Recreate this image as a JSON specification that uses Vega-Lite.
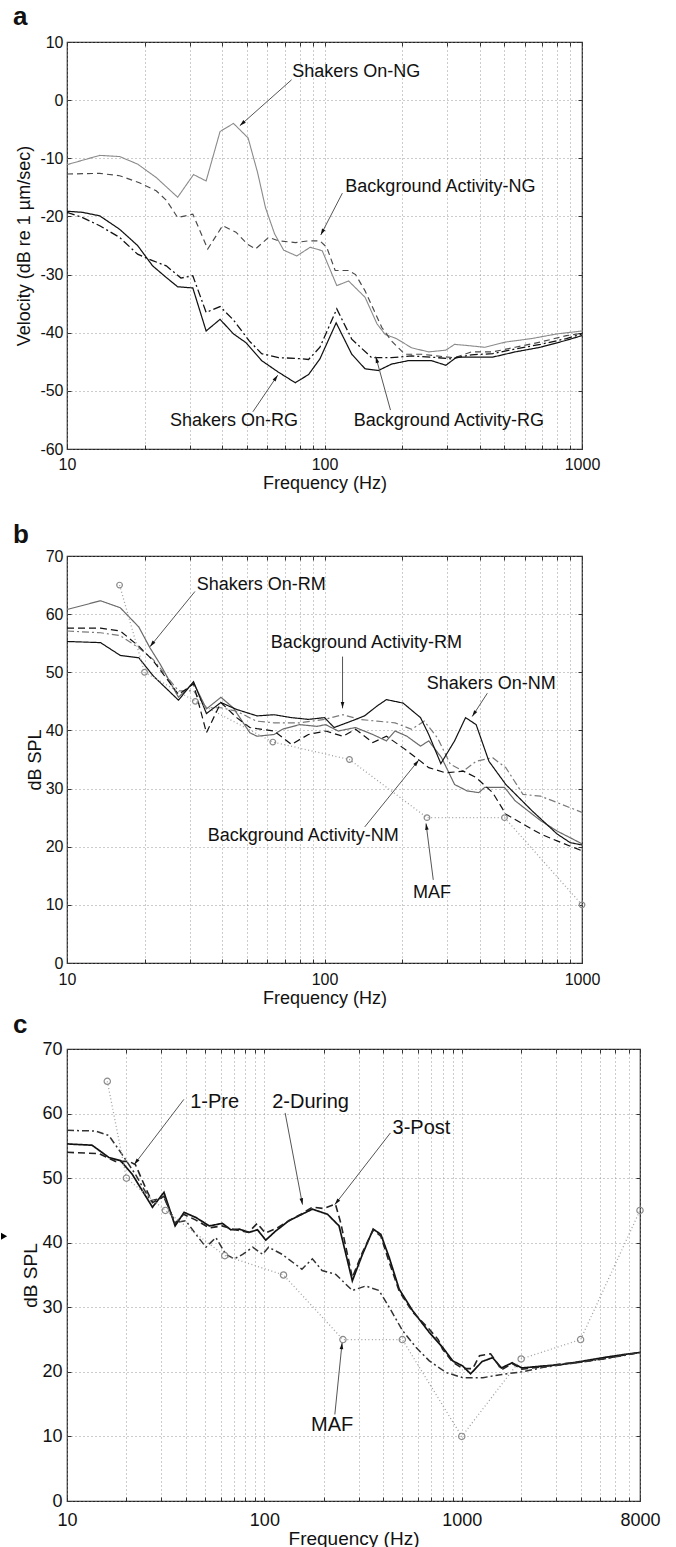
{
"$schema":"https://vega.github.io/schema/vega-lite/v6.json",
"padding":{"left":0,"top":3,"right":0,"bottom":0},
"background":"white",
"spacing":3,
"resolve":{"scale":{"color":"independent","strokeDash":"independent","strokeWidth":"independent","x":"independent","y":"independent"}},
"config":{
 "font":"Liberation Sans",
 "view":{"stroke":"#222","strokeWidth":1.2},
 "axis":{"labelFont":"Liberation Sans","titleFont":"Liberation Sans","labelColor":"#111","titleColor":"#111","titleFontWeight":"normal","labelFontSize":16,"titleFontSize":18,"grid":true,"gridColor":"#8c8c8c","gridDash":[1,3],"gridWidth":0.9,"tickSize":-4,"tickColor":"#333","domain":false,"labelFlush":false,"labelOverlap":false},
 "title":{"font":"Liberation Sans","fontWeight":"bold","fontSize":26,"anchor":"start","frame":"group","color":"#111","baseline":"alphabetic"},
 "text":{"font":"Liberation Sans"}
},
"datasets":{
"A":[
{"s":"NG","f":10,"v":-11.1},{"s":"NG","f":13.4,"v":-9.5},{"s":"NG","f":16,"v":-9.7},{"s":"NG","f":18.8,"v":-11},{"s":"NG","f":22.2,"v":-13.3},{"s":"NG","f":26.9,"v":-16.7},{"s":"NG","f":31,"v":-12.8},{"s":"NG","f":34.7,"v":-13.9},{"s":"NG","f":39.3,"v":-5.4},{"s":"NG","f":44.3,"v":-4},{"s":"NG","f":50.5,"v":-6.5},{"s":"NG","f":55,"v":-12.5},{"s":"NG","f":59,"v":-18.5},{"s":"NG","f":64,"v":-23},{"s":"NG","f":69.4,"v":-25.8},{"s":"NG","f":78,"v":-26.8},{"s":"NG","f":88,"v":-25.3},{"s":"NG","f":98,"v":-25.9},{"s":"NG","f":111.6,"v":-31.9},{"s":"NG","f":124,"v":-31.1},{"s":"NG","f":143.7,"v":-33.9},{"s":"NG","f":160,"v":-38.5},{"s":"NG","f":172,"v":-40.3},{"s":"NG","f":190,"v":-41},{"s":"NG","f":218,"v":-42.6},{"s":"NG","f":254,"v":-43.3},{"s":"NG","f":296,"v":-43},{"s":"NG","f":320,"v":-42},{"s":"NG","f":358,"v":-42.2},{"s":"NG","f":419,"v":-42.5},{"s":"NG","f":506,"v":-41.6},{"s":"NG","f":639,"v":-41},{"s":"NG","f":800,"v":-40.2},{"s":"NG","f":1000,"v":-39.7},
{"s":"NGb","f":10,"v":-12.7},{"s":"NGb","f":13.4,"v":-12.6},{"s":"NGb","f":16,"v":-13},{"s":"NGb","f":19.1,"v":-14.2},{"s":"NGb","f":22.2,"v":-15.6},{"s":"NGb","f":24.3,"v":-17.2},{"s":"NGb","f":26.9,"v":-20.2},{"s":"NGb","f":30.8,"v":-19.6},{"s":"NGb","f":35.2,"v":-25.6},{"s":"NGb","f":40.2,"v":-21.6},{"s":"NGb","f":45.3,"v":-22.7},{"s":"NGb","f":50.3,"v":-24.8},{"s":"NGb","f":54,"v":-25.6},{"s":"NGb","f":60.6,"v":-23.6},{"s":"NGb","f":66.3,"v":-24.2},{"s":"NGb","f":77,"v":-24.5},{"s":"NGb","f":86.7,"v":-24.2},{"s":"NGb","f":96,"v":-24.2},{"s":"NGb","f":102,"v":-25.3},{"s":"NGb","f":110,"v":-29.3},{"s":"NGb","f":124,"v":-29.3},{"s":"NGb","f":132,"v":-30},{"s":"NGb","f":143.7,"v":-32.8},{"s":"NGb","f":167,"v":-39.1},{"s":"NGb","f":182,"v":-41.4},{"s":"NGb","f":205,"v":-43.7},{"s":"NGb","f":238,"v":-43.7},{"s":"NGb","f":302,"v":-44.2},{"s":"NGb","f":320,"v":-44.3},{"s":"NGb","f":372,"v":-43.3},{"s":"NGb","f":450,"v":-43.3},{"s":"NGb","f":550,"v":-42.5},{"s":"NGb","f":690,"v":-41.6},{"s":"NGb","f":870,"v":-40.5},{"s":"NGb","f":1000,"v":-40.1},
{"s":"RG","f":10,"v":-19.1},{"s":"RG","f":11.5,"v":-19.3},{"s":"RG","f":13.4,"v":-19.9},{"s":"RG","f":16,"v":-22.2},{"s":"RG","f":18.8,"v":-25},{"s":"RG","f":21.5,"v":-28.5},{"s":"RG","f":24.3,"v":-30.5},{"s":"RG","f":26.9,"v":-32.1},{"s":"RG","f":30.8,"v":-32.3},{"s":"RG","f":34.7,"v":-39.7},{"s":"RG","f":39.3,"v":-37.7},{"s":"RG","f":44.3,"v":-40.2},{"s":"RG","f":49.5,"v":-41.7},{"s":"RG","f":57,"v":-44.8},{"s":"RG","f":66.3,"v":-46.8},{"s":"RG","f":77,"v":-48.6},{"s":"RG","f":86.7,"v":-47.2},{"s":"RG","f":96,"v":-44.5},{"s":"RG","f":111,"v":-38.3},{"s":"RG","f":127.6,"v":-43.7},{"s":"RG","f":143.7,"v":-46.2},{"s":"RG","f":162,"v":-46.5},{"s":"RG","f":182,"v":-45.4},{"s":"RG","f":212,"v":-44.8},{"s":"RG","f":260,"v":-44.8},{"s":"RG","f":296,"v":-45.6},{"s":"RG","f":326,"v":-44.2},{"s":"RG","f":372,"v":-44.2},{"s":"RG","f":450,"v":-44.2},{"s":"RG","f":550,"v":-43.3},{"s":"RG","f":690,"v":-42.5},{"s":"RG","f":870,"v":-41.3},{"s":"RG","f":1000,"v":-40.5},
{"s":"RGb","f":10,"v":-19.3},{"s":"RGb","f":11.5,"v":-20.2},{"s":"RGb","f":13.4,"v":-21.6},{"s":"RGb","f":16,"v":-23.6},{"s":"RGb","f":18.8,"v":-26.5},{"s":"RGb","f":21.5,"v":-27.6},{"s":"RGb","f":24.3,"v":-28.5},{"s":"RGb","f":27.7,"v":-30.6},{"s":"RGb","f":30.8,"v":-30.2},{"s":"RGb","f":34.7,"v":-36.5},{"s":"RGb","f":39.3,"v":-35.5},{"s":"RGb","f":44.3,"v":-37.8},{"s":"RGb","f":51,"v":-41.4},{"s":"RGb","f":57,"v":-43.6},{"s":"RGb","f":66.3,"v":-44.3},{"s":"RGb","f":77,"v":-44.4},{"s":"RGb","f":86.7,"v":-44.6},{"s":"RGb","f":96,"v":-42.5},{"s":"RGb","f":111.6,"v":-35.9},{"s":"RGb","f":127.6,"v":-41.1},{"s":"RGb","f":152.5,"v":-44.3},{"s":"RGb","f":182,"v":-44.3},{"s":"RGb","f":218,"v":-44},{"s":"RGb","f":260,"v":-44.2},{"s":"RGb","f":311,"v":-44.5},{"s":"RGb","f":372,"v":-43.8},{"s":"RGb","f":450,"v":-43.6},{"s":"RGb","f":550,"v":-42.8},{"s":"RGb","f":690,"v":-42},{"s":"RGb","f":870,"v":-41},{"s":"RGb","f":1000,"v":-40.2}
],
"B":[
{"s":"RM","f":10,"v":60.8},{"s":"RM","f":13.5,"v":62.3},{"s":"RM","f":16.1,"v":61.1},{"s":"RM","f":19,"v":57.8},{"s":"RM","f":21,"v":54.2},{"s":"RM","f":23,"v":51.4},{"s":"RM","f":27.1,"v":45.7},{"s":"RM","f":31,"v":48.2},{"s":"RM","f":34.8,"v":43.7},{"s":"RM","f":39.6,"v":45.7},{"s":"RM","f":44.2,"v":43.9},{"s":"RM","f":51.3,"v":39.6},{"s":"RM","f":54.7,"v":39},{"s":"RM","f":63.7,"v":39.3},{"s":"RM","f":68.6,"v":40.2},{"s":"RM","f":80,"v":41},{"s":"RM","f":93.6,"v":40.7},{"s":"RM","f":101,"v":41},{"s":"RM","f":113,"v":39.9},{"s":"RM","f":132,"v":40.5},{"s":"RM","f":154,"v":39.3},{"s":"RM","f":174,"v":38.2},{"s":"RM","f":188,"v":39.9},{"s":"RM","f":209,"v":39},{"s":"RM","f":236,"v":37.3},{"s":"RM","f":254,"v":38.2},{"s":"RM","f":285,"v":35.3},{"s":"RM","f":320,"v":30.7},{"s":"RM","f":358,"v":29.6},{"s":"RM","f":397,"v":29.3},{"s":"RM","f":419,"v":30.2},{"s":"RM","f":500,"v":30.2},{"s":"RM","f":550,"v":27.9},{"s":"RM","f":690,"v":24.5},{"s":"RM","f":800,"v":22.7},{"s":"RM","f":1000,"v":20.5},
{"s":"RMb","f":10,"v":57.1},{"s":"RMb","f":13.5,"v":56.8},{"s":"RMb","f":16.1,"v":56.3},{"s":"RMb","f":19,"v":54.2},{"s":"RMb","f":21.6,"v":52.2},{"s":"RMb","f":27.1,"v":46.8},{"s":"RMb","f":31,"v":46.8},{"s":"RMb","f":34.8,"v":43.9},{"s":"RMb","f":39.6,"v":43.9},{"s":"RMb","f":45.6,"v":43.3},{"s":"RMb","f":54.4,"v":41.6},{"s":"RMb","f":63.7,"v":41.3},{"s":"RMb","f":80,"v":41.3},{"s":"RMb","f":100,"v":41.9},{"s":"RMb","f":118,"v":42.7},{"s":"RMb","f":137,"v":41.9},{"s":"RMb","f":160,"v":41.6},{"s":"RMb","f":188,"v":41.3},{"s":"RMb","f":218,"v":40.2},{"s":"RMb","f":244,"v":41.6},{"s":"RMb","f":275,"v":38.7},{"s":"RMb","f":308,"v":34.2},{"s":"RMb","f":346,"v":33},{"s":"RMb","f":388,"v":34.7},{"s":"RMb","f":450,"v":35.3},{"s":"RMb","f":506,"v":33.6},{"s":"RMb","f":590,"v":29},{"s":"RMb","f":690,"v":28.7},{"s":"RMb","f":800,"v":27.6},{"s":"RMb","f":1000,"v":25.9},
{"s":"NM","f":10,"v":55.3},{"s":"NM","f":13.5,"v":55.1},{"s":"NM","f":16.1,"v":52.9},{"s":"NM","f":19,"v":52.5},{"s":"NM","f":21.6,"v":49.4},{"s":"NM","f":27.1,"v":45.2},{"s":"NM","f":31,"v":48.4},{"s":"NM","f":34.8,"v":42.9},{"s":"NM","f":39.6,"v":44.8},{"s":"NM","f":45.6,"v":43.6},{"s":"NM","f":54.7,"v":42.5},{"s":"NM","f":63.7,"v":42.7},{"s":"NM","f":74.4,"v":42.2},{"s":"NM","f":86.6,"v":41.9},{"s":"NM","f":100,"v":42.2},{"s":"NM","f":109,"v":40.5},{"s":"NM","f":127,"v":41.6},{"s":"NM","f":143,"v":42.5},{"s":"NM","f":160,"v":44.2},{"s":"NM","f":174,"v":45.3},{"s":"NM","f":202,"v":44.7},{"s":"NM","f":236,"v":42.2},{"s":"NM","f":254,"v":39.3},{"s":"NM","f":283,"v":34.3},{"s":"NM","f":320,"v":38.2},{"s":"NM","f":353,"v":42.2},{"s":"NM","f":388,"v":41},{"s":"NM","f":435,"v":34.7},{"s":"NM","f":506,"v":30.7},{"s":"NM","f":639,"v":26.2},{"s":"NM","f":800,"v":22.2},{"s":"NM","f":900,"v":20.7},{"s":"NM","f":1000,"v":20.3},
{"s":"NMb","f":10,"v":57.6},{"s":"NMb","f":13.5,"v":57.6},{"s":"NMb","f":16.1,"v":57.1},{"s":"NMb","f":19,"v":54.5},{"s":"NMb","f":21.6,"v":52},{"s":"NMb","f":27.1,"v":46.2},{"s":"NMb","f":31,"v":48},{"s":"NMb","f":34.8,"v":39.6},{"s":"NMb","f":39.6,"v":44.8},{"s":"NMb","f":45.6,"v":42.2},{"s":"NMb","f":51.3,"v":40.5},{"s":"NMb","f":54.7,"v":40.3},{"s":"NMb","f":63.7,"v":39.9},{"s":"NMb","f":74.4,"v":37.6},{"s":"NMb","f":86.6,"v":39.3},{"s":"NMb","f":101,"v":39.9},{"s":"NMb","f":118,"v":39},{"s":"NMb","f":132,"v":40.2},{"s":"NMb","f":154,"v":37.9},{"s":"NMb","f":174,"v":39},{"s":"NMb","f":202,"v":37},{"s":"NMb","f":227,"v":35.3},{"s":"NMb","f":254,"v":33.6},{"s":"NMb","f":296,"v":32.7},{"s":"NMb","f":346,"v":33},{"s":"NMb","f":388,"v":31.9},{"s":"NMb","f":450,"v":29.3},{"s":"NMb","f":506,"v":25.6},{"s":"NMb","f":590,"v":23.9},{"s":"NMb","f":690,"v":22.2},{"s":"NMb","f":800,"v":21},{"s":"NMb","f":1000,"v":19.3}
],
"C":[
{"s":"P1","f":10,"v":55.3},{"s":"P1","f":13.4,"v":55.1},{"s":"P1","f":16.3,"v":53.2},{"s":"P1","f":18.7,"v":52.7},{"s":"P1","f":21.4,"v":50.6},{"s":"P1","f":27.1,"v":45.5},{"s":"P1","f":31,"v":47.8},{"s":"P1","f":35.3,"v":42.6},{"s":"P1","f":39.2,"v":44.7},{"s":"P1","f":45,"v":43.9},{"s":"P1","f":52.6,"v":42.6},{"s":"P1","f":61.3,"v":43},{"s":"P1","f":67.6,"v":42},{"s":"P1","f":74.6,"v":42.1},{"s":"P1","f":83.6,"v":41.6},{"s":"P1","f":92.3,"v":42},{"s":"P1","f":101.6,"v":40.4},{"s":"P1","f":114,"v":41.8},{"s":"P1","f":133,"v":43.4},{"s":"P1","f":155,"v":44.4},{"s":"P1","f":175,"v":45.2},{"s":"P1","f":209,"v":44.4},{"s":"P1","f":239,"v":42.6},{"s":"P1","f":279,"v":34.1},{"s":"P1","f":314,"v":38.2},{"s":"P1","f":356,"v":42.1},{"s":"P1","f":389,"v":41.3},{"s":"P1","f":429,"v":37.7},{"s":"P1","f":482,"v":32.8},{"s":"P1","f":563,"v":29.5},{"s":"P1","f":685,"v":26.1},{"s":"P1","f":800,"v":23.8},{"s":"P1","f":900,"v":21.7},{"s":"P1","f":1012,"v":20.9},{"s":"P1","f":1109,"v":19.7},{"s":"P1","f":1268,"v":21.6},{"s":"P1","f":1434,"v":22.2},{"s":"P1","f":1588,"v":20.6},{"s":"P1","f":1800,"v":21.4},{"s":"P1","f":2020,"v":20.6},{"s":"P1","f":2560,"v":20.9},{"s":"P1","f":3140,"v":21.1},{"s":"P1","f":4000,"v":21.6},{"s":"P1","f":5200,"v":22.2},{"s":"P1","f":6680,"v":22.7},{"s":"P1","f":8000,"v":23},
{"s":"P2","f":10,"v":54},{"s":"P2","f":14.5,"v":53.8},{"s":"P2","f":17.6,"v":52.6},{"s":"P2","f":20.6,"v":52.6},{"s":"P2","f":22.2,"v":52.1},{"s":"P2","f":25,"v":48.5},{"s":"P2","f":27.1,"v":46.2},{"s":"P2","f":31,"v":47.2},{"s":"P2","f":35.3,"v":43},{"s":"P2","f":39,"v":44.4},{"s":"P2","f":45,"v":43.5},{"s":"P2","f":52.6,"v":42.3},{"s":"P2","f":61,"v":42.6},{"s":"P2","f":71,"v":42},{"s":"P2","f":83,"v":41.6},{"s":"P2","f":92,"v":43},{"s":"P2","f":101,"v":41.5},{"s":"P2","f":115,"v":42.2},{"s":"P2","f":133,"v":43.4},{"s":"P2","f":155,"v":44.5},{"s":"P2","f":175,"v":45.5},{"s":"P2","f":200,"v":45.3},{"s":"P2","f":229,"v":46},{"s":"P2","f":244,"v":43},{"s":"P2","f":279,"v":34.6},{"s":"P2","f":314,"v":38.5},{"s":"P2","f":356,"v":42},{"s":"P2","f":389,"v":41},{"s":"P2","f":429,"v":37},{"s":"P2","f":482,"v":32.5},{"s":"P2","f":563,"v":29.3},{"s":"P2","f":685,"v":26.6},{"s":"P2","f":760,"v":25},{"s":"P2","f":800,"v":23.5},{"s":"P2","f":900,"v":21.5},{"s":"P2","f":1012,"v":20.5},{"s":"P2","f":1137,"v":20.5},{"s":"P2","f":1230,"v":22.5},{"s":"P2","f":1400,"v":22.8},{"s":"P2","f":1500,"v":21.5},{"s":"P2","f":1588,"v":20.3},{"s":"P2","f":1800,"v":21.3},{"s":"P2","f":2020,"v":20.4},{"s":"P2","f":2560,"v":20.8},{"s":"P2","f":3140,"v":21.2},{"s":"P2","f":4000,"v":21.5},{"s":"P2","f":5200,"v":22},{"s":"P2","f":6680,"v":22.6},{"s":"P2","f":8000,"v":23},
{"s":"P3","f":10,"v":57.4},{"s":"P3","f":13.9,"v":57.3},{"s":"P3","f":16.3,"v":56.6},{"s":"P3","f":18.7,"v":54},{"s":"P3","f":22.2,"v":50.6},{"s":"P3","f":26.5,"v":46.5},{"s":"P3","f":31,"v":47},{"s":"P3","f":35.3,"v":43.1},{"s":"P3","f":40,"v":43.4},{"s":"P3","f":45,"v":41.3},{"s":"P3","f":50.6,"v":39.3},{"s":"P3","f":56.8,"v":40.8},{"s":"P3","f":63.8,"v":38.2},{"s":"P3","f":70.5,"v":37.5},{"s":"P3","f":77.6,"v":38.2},{"s":"P3","f":87.3,"v":39.3},{"s":"P3","f":98,"v":38.2},{"s":"P3","f":105,"v":39.3},{"s":"P3","f":123,"v":38.2},{"s":"P3","f":155,"v":35.9},{"s":"P3","f":175,"v":37.5},{"s":"P3","f":196,"v":35.7},{"s":"P3","f":230,"v":35.1},{"s":"P3","f":279,"v":32.6},{"s":"P3","f":326,"v":33.3},{"s":"P3","f":381,"v":32.6},{"s":"P3","f":429,"v":30},{"s":"P3","f":501,"v":26.4},{"s":"P3","f":586,"v":23.8},{"s":"P3","f":685,"v":21.7},{"s":"P3","f":833,"v":19.9},{"s":"P3","f":1012,"v":19.1},{"s":"P3","f":1280,"v":19.1},{"s":"P3","f":1600,"v":19.6},{"s":"P3","f":2020,"v":20},{"s":"P3","f":2600,"v":20.7},{"s":"P3","f":3200,"v":21.1},{"s":"P3","f":4000,"v":21.5},{"s":"P3","f":5000,"v":21.9},{"s":"P3","f":6500,"v":22.5},{"s":"P3","f":8000,"v":23}
],
"MAF":[
{"p":"b","f":16,"v":65},{"p":"b","f":20,"v":50},{"p":"b","f":31.5,"v":45},{"p":"b","f":63,"v":38},{"p":"b","f":125,"v":35},{"p":"b","f":250,"v":25},{"p":"b","f":500,"v":25},{"p":"b","f":1000,"v":10},
{"p":"c","f":16,"v":65},{"p":"c","f":20,"v":50},{"p":"c","f":31.5,"v":45},{"p":"c","f":63,"v":38},{"p":"c","f":125,"v":35},{"p":"c","f":250,"v":25},{"p":"c","f":500,"v":25},{"p":"c","f":1000,"v":10},{"p":"c","f":2000,"v":22},{"p":"c","f":4000,"v":25},{"p":"c","f":8000,"v":45}
],
"ANN":[
{"p":"a","t":"Shakers On-NG","f":75,"v":4.9},{"p":"a","t":"Background Activity-NG","f":120.5,"v":-14.9},{"p":"a","t":"Shakers On-RG","f":25.1,"v":-55.2},{"p":"a","t":"Background Activity-RG","f":130,"v":-55.2},
{"p":"b","t":"Shakers On-RM","f":31.9,"v":65},{"p":"b","t":"Background Activity-RM","f":61.9,"v":55},{"p":"b","t":"Shakers On-NM","f":249.5,"v":47.9},{"p":"b","t":"Background Activity-NM","f":35.2,"v":21.9},{"p":"b","t":"MAF","f":220.6,"v":12},
{"p":"c","t":"1-Pre","f":42.1,"v":61.8},{"p":"c","t":"2-During","f":109.6,"v":61.8},{"p":"c","t":"3-Post","f":446,"v":57.7},{"p":"c","t":"MAF","f":172.5,"v":11.7}
],
"ARR":[
{"p":"a","id":"a1","f":74.5,"v":3.5,"f2":46.9,"v2":-4.4},{"p":"a","id":"a2","f":117.3,"v":-16,"f2":96.7,"v2":-23.2},{"p":"a","id":"a3","f":52.7,"v":-53.6,"f2":65.8,"v2":-47.3},{"p":"a","id":"a4","f":180.4,"v":-53.3,"f2":158.1,"v2":-44.1},
{"p":"b","id":"b1","f":31.4,"v":63.9,"f2":21,"v2":54.4},{"p":"b","id":"b2","f":117.5,"v":52.7,"f2":117.5,"v2":43.8},{"p":"b","id":"b3","f":429,"v":46.4,"f2":374.7,"v2":42.4},{"p":"b","id":"b4","f":143.3,"v":23.4,"f2":232.3,"v2":34.9},{"p":"b","id":"b5","f":264.5,"v":14.3,"f2":247.9,"v2":24},
{"p":"c","id":"c1","f":39.1,"v":62.2,"f2":21.9,"v2":52.1},{"p":"c","id":"c2","f":127.4,"v":60.1,"f2":156,"v2":45.9},{"p":"c","id":"c3","f":435,"v":57,"f2":227.5,"v2":45.9},{"p":"c","id":"c4","f":227.5,"v":13.4,"f2":247.6,"v2":24.5}
],
"MK":[{"f":4.8,"v":41}]
},
"vconcat":[
{
 "width":515,"height":407,
 "title":{"text":"a","dx":-54,"offset":4},
 "resolve":{"axis":{"x":"independent","y":"independent"}},
 "layer":[
  {"data":{"name":"A"},"mark":{"type":"line","clip":true},
   "encoding":{
    "x":{"field":"f","type":"quantitative","scale":{"type":"log","domain":[10,1000],"nice":false},
     "axis":{"title":["Frequency (Hz)",""],"titleLineHeight":25,"values":[10,20,30,40,50,60,70,80,90,100,200,300,400,500,600,700,800,900,1000],"labelExpr":"indexof([10,100,1000], datum.value) >= 0 ? '' + datum.value : ''","labelPadding":11,"titlePadding":2}},
    "y":{"field":"v","type":"quantitative","scale":{"domain":[-60,10],"nice":false,"zero":false},
     "axis":{"title":"Velocity (dB re 1 µm/sec)","values":[-60,-50,-40,-30,-20,-10,0,10],"labelExpr":"'' + datum.value","labelPadding":8,"titlePadding":6}},
    "color":{"field":"s","type":"nominal","scale":{"domain":["NG","NGb","RG","RGb"],"range":["#8a8a8a","#4a4a4a","#111111","#111111"]},"legend":null},
    "strokeWidth":{"field":"s","type":"ordinal","scale":{"domain":["NG","NGb","RG","RGb"],"range":[1.1,1.3,2.5,2.2]},"legend":null},
    "strokeDash":{"field":"s","type":"nominal","scale":{"domain":["NG","NGb","RG","RGb"],"range":[[1,0],[6,4],[1,0],[8,3,2,3]]},"legend":null}
   }},
  {"data":{"name":"ANN"},"transform":[{"filter":"datum.p==='a'"}],"mark":{"type":"text","align":"left","baseline":"middle","fontSize":18,"color":"#111"},
   "encoding":{
    "x":{"field":"f","type":"quantitative","axis":{"orient":"top","labels":false,"title":null,"grid":false,"values":[10,20,30,40,50,60,70,80,90,100,200,300,400,500,600,700,800,900,1000]}},
    "y":{"field":"v","type":"quantitative","axis":{"orient":"right","labels":false,"title":null,"grid":false,"values":[-60,-50,-40,-30,-20,-10,0,10]}},
    "text":{"field":"t","type":"nominal"}}},
  {"data":{"name":"ARR"},"transform":[{"filter":"datum.p==='a'"}],"mark":{"type":"rule","color":"#555","strokeWidth":1},
   "encoding":{"x":{"field":"f","type":"quantitative","axis":null},"y":{"field":"v","type":"quantitative","axis":null},"x2":{"field":"f2"},"y2":{"field":"v2"}}},
  {"data":{"name":"ARR"},"transform":[{"filter":"datum.p==='a'"}],"mark":{"type":"point","shape":"M0,0L-0.45,1.6L0.45,1.6Z","filled":true,"color":"#111","size":64,"opacity":1},
   "encoding":{"x":{"field":"f2","type":"quantitative","axis":null},"y":{"field":"v2","type":"quantitative","axis":null},
    "angle":{"condition":[{"test":"datum.id==='a1'","value":228},{"test":"datum.id==='a2'","value":207},{"test":"datum.id==='a3'","value":34},{"test":"datum.id==='a4'","value":344}],"value":0}}}
 ]
},
{
 "width":515,"height":407,
 "title":{"text":"b","dx":-54,"offset":0},
 "resolve":{"axis":{"x":"independent","y":"independent"}},
 "layer":[
  {"data":{"name":"B"},"mark":{"type":"line","clip":true},
   "encoding":{
    "x":{"field":"f","type":"quantitative","scale":{"type":"log","domain":[10,1000],"nice":false},
     "axis":{"title":"Frequency (Hz)","values":[10,20,30,40,50,60,70,80,90,100,200,300,400,500,600,700,800,900,1000],"labelExpr":"indexof([10,100,1000], datum.value) >= 0 ? '' + datum.value : ''","labelPadding":12,"titlePadding":2}},
    "y":{"field":"v","type":"quantitative","scale":{"domain":[0,70],"nice":false},
     "axis":{"title":"dB SPL","values":[0,10,20,30,40,50,60,70],"labelExpr":"'' + datum.value","labelPadding":8,"titlePadding":1}},
    "color":{"field":"s","type":"nominal","scale":{"domain":["RM","RMb","NM","NMb"],"range":["#6a6a6a","#7a7a7a","#111111","#111111"]},"legend":null},
    "strokeWidth":{"field":"s","type":"ordinal","scale":{"domain":["RM","RMb","NM","NMb"],"range":[1.2,1.2,2.4,2.2]},"legend":null},
    "strokeDash":{"field":"s","type":"nominal","scale":{"domain":["RM","RMb","NM","NMb"],"range":[[1,0],[7,3,2,3],[1,0],[7,4]]},"legend":null}
   }},
  {"data":{"name":"MAF"},"transform":[{"filter":"datum.p==='b'"}],"mark":{"type":"line","color":"#a0a0a0","strokeDash":[1,2.5],"strokeWidth":1.3},
   "encoding":{"x":{"field":"f","type":"quantitative","axis":null},"y":{"field":"v","type":"quantitative","axis":null}}},
  {"data":{"name":"MAF"},"transform":[{"filter":"datum.p==='b'"}],"mark":{"type":"point","shape":"circle","size":32,"color":"#8a8a8a","filled":false,"strokeWidth":1.2,"opacity":1},
   "encoding":{"x":{"field":"f","type":"quantitative","axis":null},"y":{"field":"v","type":"quantitative","axis":null}}},
  {"data":{"name":"ANN"},"transform":[{"filter":"datum.p==='b'"}],"mark":{"type":"text","align":"left","baseline":"middle","fontSize":18,"color":"#111"},
   "encoding":{
    "x":{"field":"f","type":"quantitative","axis":{"orient":"top","labels":false,"title":null,"grid":false,"values":[10,20,30,40,50,60,70,80,90,100,200,300,400,500,600,700,800,900,1000]}},
    "y":{"field":"v","type":"quantitative","axis":{"orient":"right","labels":false,"title":null,"grid":false,"values":[0,10,20,30,40,50,60,70]}},
    "text":{"field":"t","type":"nominal"}}},
  {"data":{"name":"ARR"},"transform":[{"filter":"datum.p==='b'"}],"mark":{"type":"rule","color":"#555","strokeWidth":1},
   "encoding":{"x":{"field":"f","type":"quantitative","axis":null},"y":{"field":"v","type":"quantitative","axis":null},"x2":{"field":"f2"},"y2":{"field":"v2"}}},
  {"data":{"name":"ARR"},"transform":[{"filter":"datum.p==='b'"}],"mark":{"type":"point","shape":"M0,0L-0.45,1.6L0.45,1.6Z","filled":true,"color":"#111","size":64,"opacity":1},
   "encoding":{"x":{"field":"f2","type":"quantitative","axis":null},"y":{"field":"v2","type":"quantitative","axis":null},
    "angle":{"condition":[{"test":"datum.id==='b1'","value":219},{"test":"datum.id==='b2'","value":180},{"test":"datum.id==='b3'","value":213},{"test":"datum.id==='b4'","value":39},{"test":"datum.id==='b5'","value":352}],"value":0}}}
 ]
},
{
 "width":573,"height":452,
 "title":{"text":"c","dx":-54,"offset":2},
 "resolve":{"axis":{"x":"independent","y":"independent"}},
 "layer":[
  {"data":{"name":"C"},"mark":{"type":"line","clip":true},
   "encoding":{
    "x":{"field":"f","type":"quantitative","scale":{"type":"log","domain":[10,8000],"nice":false},
     "axis":{"title":"Frequency (Hz)","titleFontSize":19,"labelFontSize":18,"values":[10,20,30,40,50,60,70,80,90,100,200,300,400,500,600,700,800,900,1000,2000,3000,4000,5000,6000,7000,8000],"labelExpr":"indexof([10,100,1000,8000], datum.value) >= 0 ? '' + datum.value : ''","labelPadding":14,"titlePadding":0}},
    "y":{"field":"v","type":"quantitative","scale":{"domain":[0,70],"nice":false},
     "axis":{"title":"dB SPL","titleFontSize":19,"labelFontSize":18,"values":[0,10,20,30,40,50,60,70],"labelExpr":"'' + datum.value","labelPadding":9,"titlePadding":1}},
    "color":{"field":"s","type":"nominal","scale":{"domain":["P1","P2","P3"],"range":["#111111","#222222","#333333"]},"legend":null},
    "strokeWidth":{"field":"s","type":"ordinal","scale":{"domain":["P1","P2","P3"],"range":[1.7,1.5,1.4]},"legend":null},
    "strokeDash":{"field":"s","type":"nominal","scale":{"domain":["P1","P2","P3"],"range":[[1,0],[7,4],[7,3,2,3]]},"legend":null}
   }},
  {"data":{"name":"MAF"},"transform":[{"filter":"datum.p==='c'"}],"mark":{"type":"line","color":"#a0a0a0","strokeDash":[1,2.5],"strokeWidth":1.3},
   "encoding":{"x":{"field":"f","type":"quantitative","axis":null},"y":{"field":"v","type":"quantitative","axis":null}}},
  {"data":{"name":"MAF"},"transform":[{"filter":"datum.p==='c'"}],"mark":{"type":"point","shape":"circle","size":40,"color":"#8a8a8a","filled":false,"strokeWidth":1.2,"opacity":1},
   "encoding":{"x":{"field":"f","type":"quantitative","axis":null},"y":{"field":"v","type":"quantitative","axis":null}}},
  {"data":{"name":"ANN"},"transform":[{"filter":"datum.p==='c'"}],"mark":{"type":"text","align":"left","baseline":"middle","fontSize":20,"color":"#111"},
   "encoding":{
    "x":{"field":"f","type":"quantitative","axis":{"orient":"top","labels":false,"title":null,"grid":false,"values":[10,20,30,40,50,60,70,80,90,100,200,300,400,500,600,700,800,900,1000,2000,3000,4000,5000,6000,7000,8000]}},
    "y":{"field":"v","type":"quantitative","axis":{"orient":"right","labels":false,"title":null,"grid":false,"values":[0,10,20,30,40,50,60,70]}},
    "text":{"field":"t","type":"nominal"}}},
  {"data":{"name":"ARR"},"transform":[{"filter":"datum.p==='c'"}],"mark":{"type":"rule","color":"#555","strokeWidth":1},
   "encoding":{"x":{"field":"f","type":"quantitative","axis":null},"y":{"field":"v","type":"quantitative","axis":null},"x2":{"field":"f2"},"y2":{"field":"v2"}}},
  {"data":{"name":"ARR"},"transform":[{"filter":"datum.p==='c'"}],"mark":{"type":"point","shape":"M0,0L-0.45,1.6L0.45,1.6Z","filled":true,"color":"#111","size":64,"opacity":1},
   "encoding":{"x":{"field":"f2","type":"quantitative","axis":null},"y":{"field":"v2","type":"quantitative","axis":null},
    "angle":{"condition":[{"test":"datum.id==='c1'","value":217},{"test":"datum.id==='c2'","value":169},{"test":"datum.id==='c3'","value":218},{"test":"datum.id==='c4'","value":6}],"value":0}}},
  {"data":{"name":"MK"},"mark":{"type":"point","shape":"triangle-right","filled":true,"color":"#000","size":50,"opacity":1},
   "encoding":{"x":{"field":"f","type":"quantitative","axis":null},"y":{"field":"v","type":"quantitative","axis":null}}}
 ]
}
]
}
